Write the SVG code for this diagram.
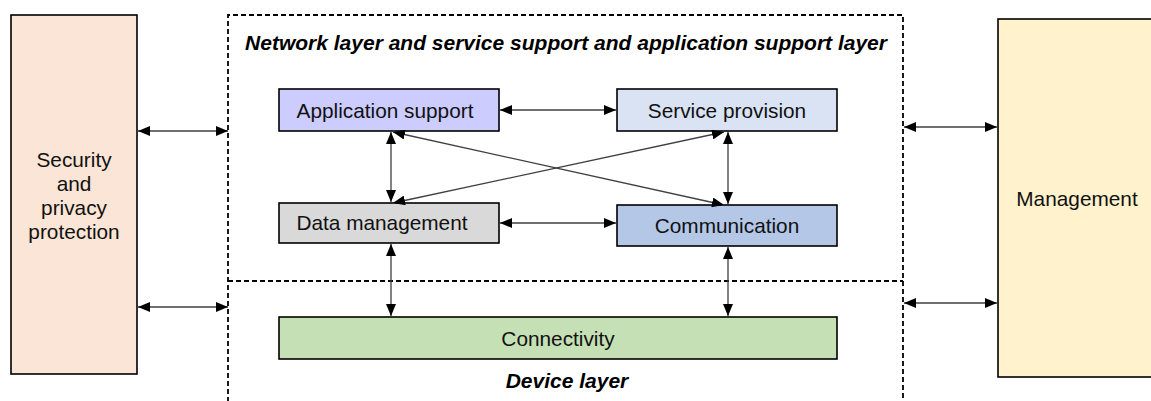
<svg xmlns="http://www.w3.org/2000/svg" width="1151" height="401" viewBox="0 0 1151 401">
<style>
.box{stroke:#000;stroke-width:1.6}
.lbl{font-family:"Liberation Sans",Arial,sans-serif;font-size:20.8px;fill:#111;text-anchor:middle}
.ttl{font-family:"Liberation Sans",Arial,sans-serif;font-size:21px;font-weight:bold;font-style:italic;fill:#000;text-anchor:middle}
.dash{fill:none;stroke:#000;stroke-width:1.8;stroke-dasharray:5 3}
.con{stroke:#404040;stroke-width:1.3;fill:none;marker-start:url(#ah);marker-end:url(#ah)}
</style>
<defs>
<marker id="ah" markerUnits="userSpaceOnUse" markerWidth="12" markerHeight="10" refX="12" refY="5" orient="auto-start-reverse" viewBox="0 0 12 10">
<path d="M0,0 L12,5 L0,10 z" fill="#000"/>
</marker>
</defs>
<rect width="1151" height="401" fill="#fff"/>
<g id="layers">
<path class="dash" d="M228,410 V15 H903 V410"/>
<line class="dash" x1="228" y1="281" x2="903" y2="281"/>
<text class="ttl" x="566" y="50">Network layer and service support and application support layer</text>
<text class="ttl" x="567" y="388">Device layer</text>
</g>
<g id="security">
<rect class="box" x="11" y="15" width="126" height="359" fill="#FBE5D6"/>
<text class="lbl" x="74" y="167">Security</text>
<text class="lbl" x="74" y="191">and</text>
<text class="lbl" x="74" y="215">privacy</text>
<text class="lbl" x="74" y="239">protection</text>
</g>
<g id="management">
<rect class="box" x="998" y="19" width="160" height="358" fill="#FFF2CC"/>
<text class="lbl" x="1077" y="206">Management</text>
</g>
<g id="app-support">
<rect class="box" x="279" y="89" width="220" height="42" fill="#CCCCFF"/>
<text class="lbl" x="385" y="118">Application support</text>
</g>
<g id="service-provision">
<rect class="box" x="617" y="89" width="220" height="42" fill="#DAE3F3"/>
<text class="lbl" x="727" y="118">Service provision</text>
</g>
<g id="data-management">
<rect class="box" x="279" y="203" width="220" height="40" fill="#D9D9D9"/>
<text class="lbl" x="382" y="230">Data management</text>
</g>
<g id="communication">
<rect class="box" x="617" y="205" width="220" height="41" fill="#B4C7E7"/>
<text class="lbl" x="727" y="233">Communication</text>
</g>
<g id="connectivity">
<rect class="box" x="279" y="317" width="558" height="42" fill="#C5E0B4"/>
<text class="lbl" x="558" y="346">Connectivity</text>
</g>
<g id="connectors">
<line class="con" x1="138" y1="131" x2="228" y2="131"/>
<line class="con" x1="138" y1="307" x2="228" y2="307"/>
<line class="con" x1="904" y1="127" x2="997" y2="127"/>
<line class="con" x1="904" y1="303" x2="997" y2="303"/>
<line class="con" x1="500" y1="110" x2="616" y2="110"/>
<line class="con" x1="500" y1="223" x2="616" y2="223"/>
<line class="con" x1="391" y1="132" x2="391" y2="202"/>
<line class="con" x1="728" y1="132" x2="728" y2="204"/>
<line class="con" x1="391" y1="244" x2="391" y2="316"/>
<line class="con" x1="728" y1="247" x2="728" y2="316"/>
<line class="con" x1="393" y1="132" x2="724" y2="205"/>
<line class="con" x1="393" y1="203" x2="724" y2="132"/>
</g>
</svg>
